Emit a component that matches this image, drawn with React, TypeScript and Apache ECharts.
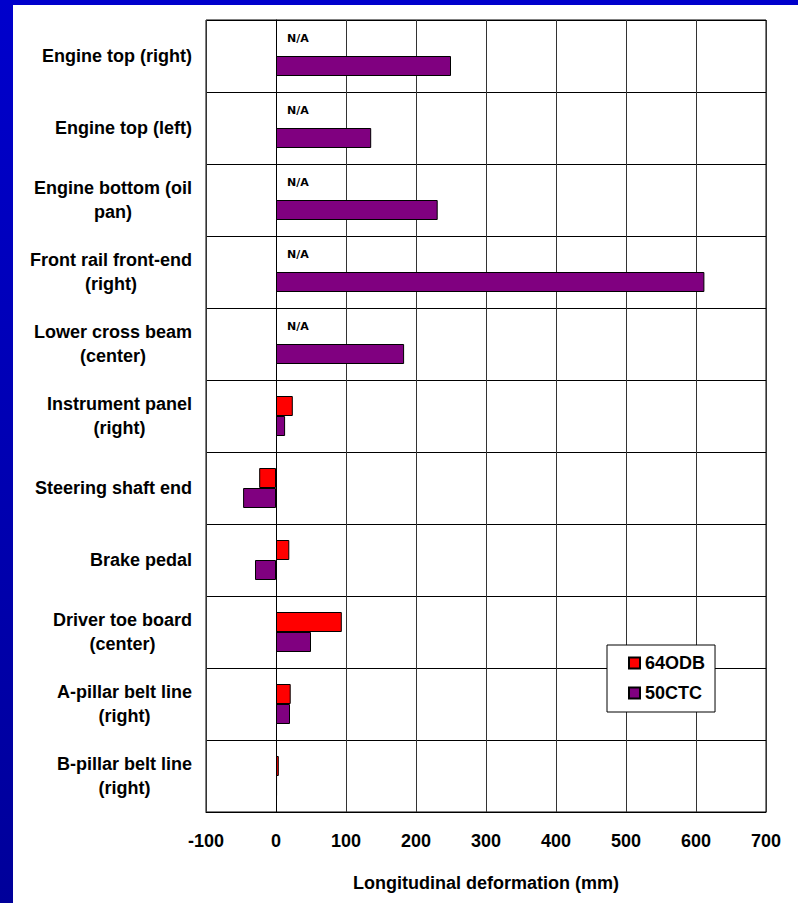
import React, { useEffect, useRef } from "react";
import * as echarts from "echarts";

const categories = [
  "Engine top (right)",
  "Engine top (left)",
  "Engine bottom (oil\npan)",
  "Front rail front-end\n(right)",
  "Lower cross beam\n(center)",
  "Instrument panel\n(right)",
  "Steering shaft end",
  "Brake pedal",
  "Driver toe board\n(center)",
  "A-pillar belt line\n(right)",
  "B-pillar belt line\n(right)",
];

// null = N/A
const odb64: (number | null)[] = [null, null, null, null, null, 24, -24, 19, 94, 21, 4];
const ctc50: number[] = [250, 136, 231, 612, 183, 13, -47, -30, 50, 20, 1.5];

const xTicks = { min: -100, max: 700, interval: 100 };

const FONT = "'Liberation Sans', Arial, sans-serif";

export default function App() {
  const ref = useRef<HTMLDivElement>(null);

  useEffect(() => {
    if (!ref.current) return;
    const chart = echarts.init(ref.current, null, { renderer: "svg" });

    const odbData = odb64.map((v) =>
      v === null
        ? {
            value: 0,
            itemStyle: { borderWidth: 0 },
            label: {
              show: true,
              formatter: "N/A",
              position: "right",
              offset: [6, -8],
              fontFamily: "'DejaVu Sans', Verdana, sans-serif",
              fontWeight: "bold",
              fontSize: 11,
              color: "#000",
            },
          }
        : v
    );

    chart.setOption({
      animation: false,
      backgroundColor: "#fff",
      graphic: [
        {
          type: "rect",
          left: 0,
          top: 0,
          shape: { width: 13, height: 903 },
          style: {
            fill: new echarts.graphic.LinearGradient(0, 0, 0, 1, [
              { offset: 0, color: "#0000cc" },
              { offset: 1, color: "#00009a" },
            ]),
          },
          z: 10,
        },
        {
          type: "rect",
          left: 0,
          top: 0,
          shape: { width: 798, height: 5 },
          style: { fill: "#0000cc" },
          z: 10,
        },
      ],
      grid: {
        left: 206,
        right: 32,
        top: 20,
        bottom: 91,
        show: true,
        borderColor: "#000",
        borderWidth: 1,
        backgroundColor: "transparent",
      },
      legend: {
        orient: "vertical",
        left: 607,
        top: 645,
        backgroundColor: "#fff",
        borderColor: "#000",
        borderWidth: 1,
        padding: [9, 10, 10, 21],
        itemGap: 12,
        itemWidth: 11,
        itemHeight: 11,
        icon: "rect",
        textStyle: { fontFamily: FONT, fontWeight: "bold", fontSize: 18, color: "#000" },
        data: ["64ODB", "50CTC"],
      },
      xAxis: {
        type: "value",
        min: xTicks.min,
        max: xTicks.max,
        interval: xTicks.interval,
        name: "Longitudinal deformation (mm)",
        nameLocation: "middle",
        nameGap: 62,
        nameTextStyle: { fontFamily: FONT, fontWeight: "bold", fontSize: 18, color: "#000" },
        axisLine: { show: true, lineStyle: { color: "#000", width: 1 } },
        axisTick: { show: false },
        axisLabel: {
          margin: 20,
          fontFamily: FONT,
          fontWeight: "bold",
          fontSize: 18,
          color: "#000",
        },
        splitLine: { show: true, lineStyle: { color: "#333", width: 1 } },
      },
      yAxis: {
        type: "category",
        inverse: true,
        data: categories,
        axisLine: { show: true, lineStyle: { color: "#000", width: 1 } },
        axisTick: { show: false },
        splitLine: { show: true, interval: 0, lineStyle: { color: "#000", width: 1 } },
        axisLabel: {
          interval: 0,
          margin: 14,
          align: "right",
          formatter: (v: string) =>
            v
              .split("\n")
              .map((l) => `{c|${l}}`)
              .join("\n"),
          rich: {
            c: {
              align: "center",
              fontFamily: FONT,
              fontWeight: "bold",
              fontSize: 18,
              lineHeight: 24,
              color: "#000",
            },
          },
        },
      },
      series: [
        {
          name: "64ODB",
          type: "bar",
          data: odbData,
          barWidth: 20,
          barGap: "0%",
          itemStyle: { color: "#ff0000", borderColor: "#000", borderWidth: 1 },
        },
        {
          name: "50CTC",
          type: "bar",
          data: ctc50,
          barWidth: 20,
          barGap: "0%",
          itemStyle: { color: "#800080", borderColor: "#000", borderWidth: 1 },
        },
      ],
    });

    return () => chart.dispose();
  }, []);

  return (
    <div
      ref={ref}
      style={{ position: "absolute", left: 0, top: 0, width: 798, height: 903 }}
    />
  );
}
